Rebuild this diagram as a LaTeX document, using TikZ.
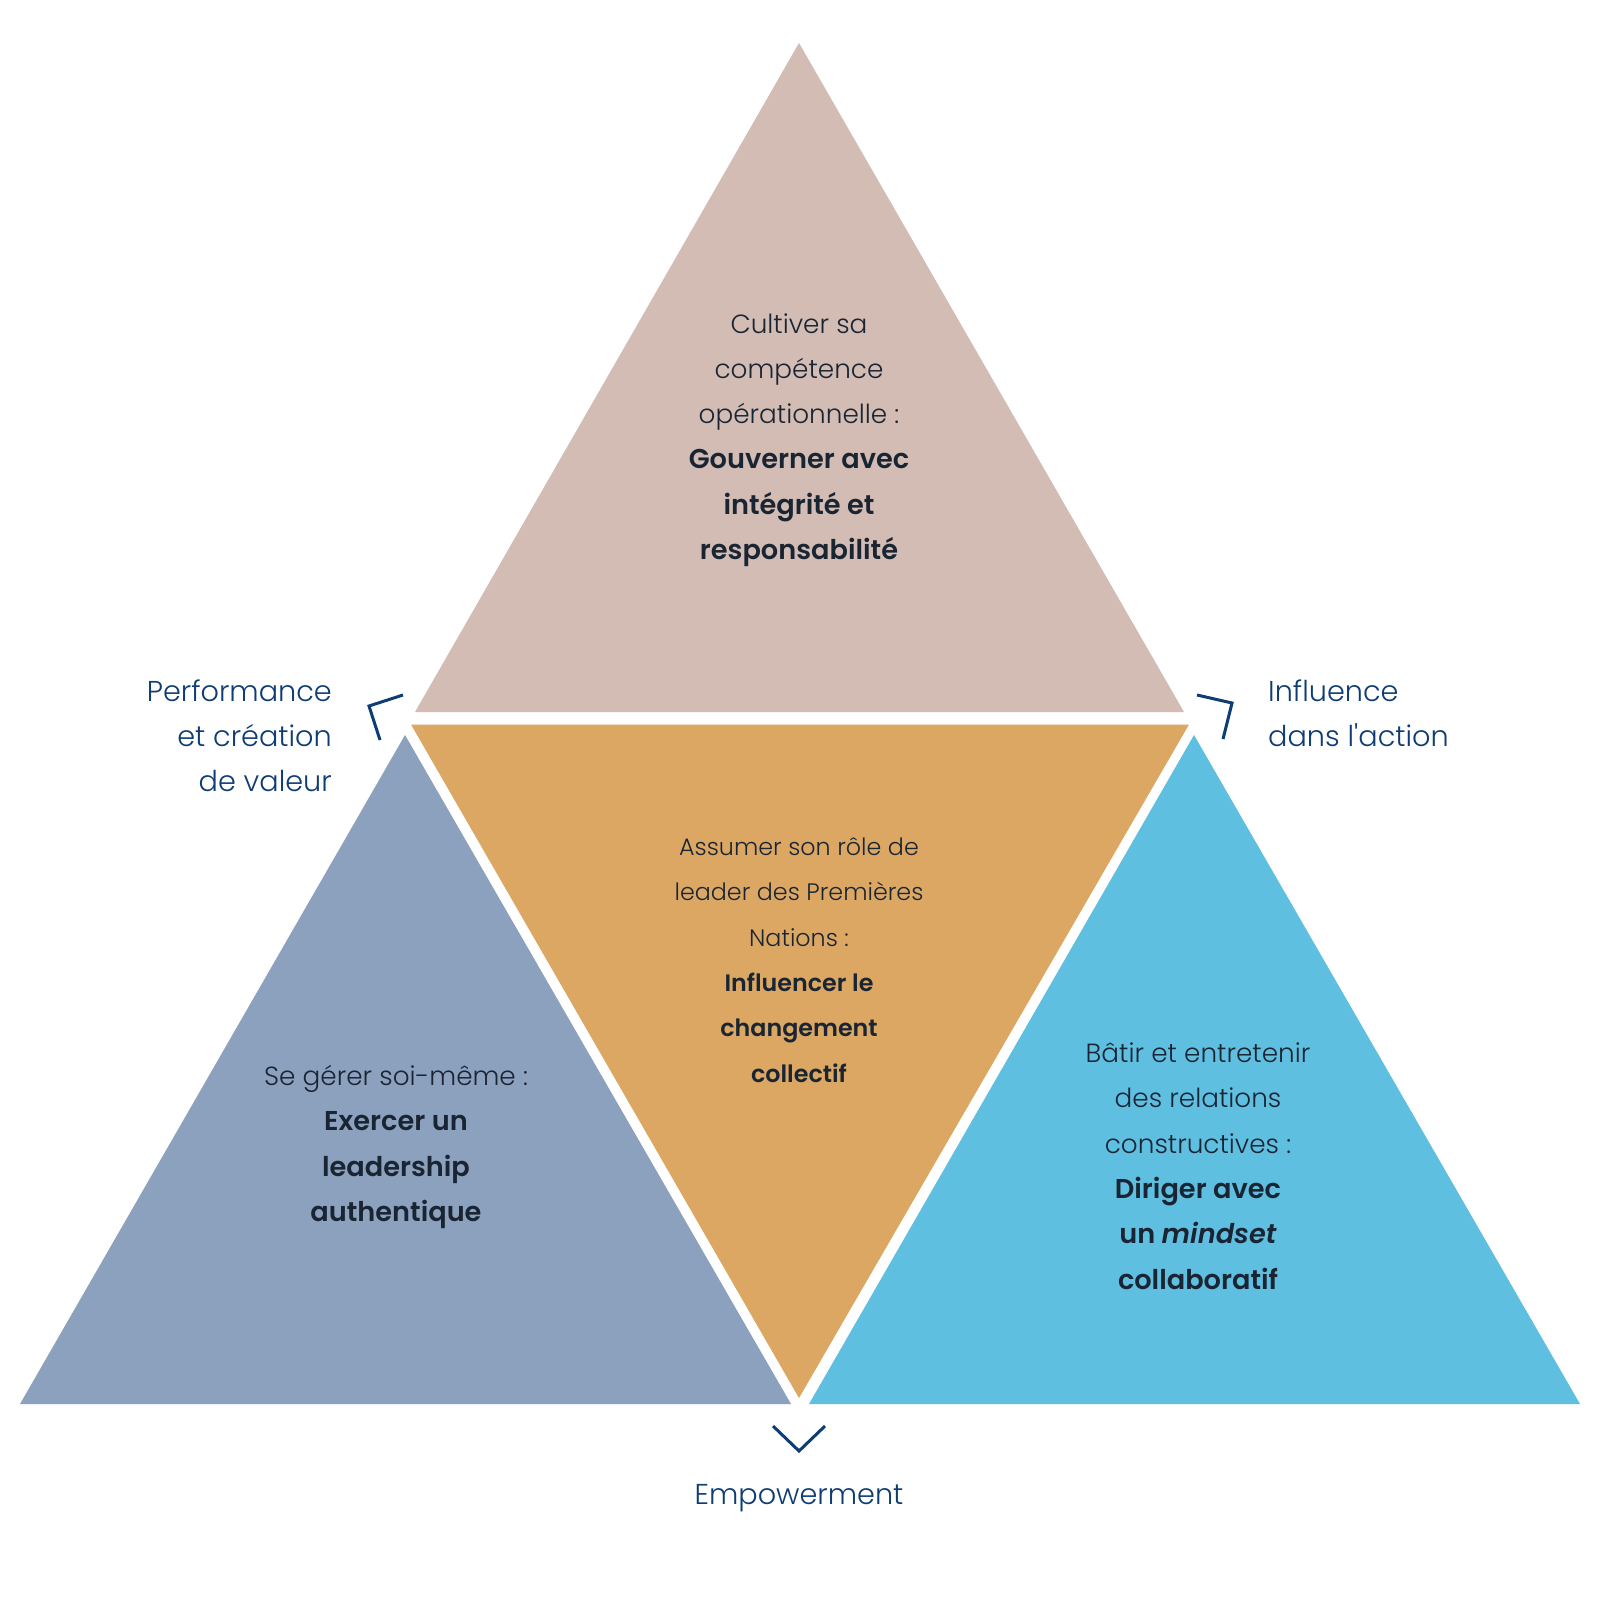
\documentclass[tikz,border=0pt]{standalone}
\usepackage{fontspec}
\setmainfont{Poppins}[UprightFont=*-Light, BoldFont=*-SemiBold, BoldItalicFont=*-SemiBoldItalic]
\definecolor{topc}{HTML}{D3BCB4}
\definecolor{midc}{HTML}{DBA763}
\definecolor{leftc}{HTML}{8CA1BE}
\definecolor{rightc}{HTML}{5FBFE0}
\definecolor{ink}{HTML}{1A2534}
\definecolor{navy}{HTML}{0E3C74}
\newcommand{\Bl}[1]{{\fontsize{27.2}{45.3}\selectfont\bfseries #1}}
\tikzset{
  body/.style={align=center, text=ink, font=\fontsize{26.3}{45.3}\selectfont, inner sep=0pt},
  midbody/.style={body, font=\fontsize{23.8}{45.3}\selectfont},
  label/.style={text=navy, font=\fontsize{28.7}{45}\selectfont\addfontfeature{Ligatures=TeXOff}, inner sep=0pt},
  chevron/.style={draw=navy, line width=3pt, line join=miter}
}
\begin{document}
\begin{tikzpicture}[x=1pt,y=-1pt]
\useasboundingbox (0,0) rectangle (1600,1600);
\fill[white] (0,0) rectangle (1600,1600);
% triangles
\fill[topc] (799,43) -- (1184,712) -- (415,712) -- cycle;
\fill[midc] (411,724.5) -- (1189,724.5) -- (799,1398) -- cycle;
\fill[leftc] (405,735) -- (791,1404) -- (20,1404) -- cycle;
\fill[rightc] (1194,735) -- (1580,1404) -- (809,1404) -- cycle;
% chevrons
\coordinate (la) at (403,695); \coordinate (lb) at (369,706); \coordinate (lc) at (380,740);
\draw[chevron] (la) -- (lb) -- (lc);
\coordinate (ra) at (1197,695); \coordinate (rb) at (1232,703); \coordinate (rc) at (1223,739);
\draw[chevron] (ra) -- (rb) -- (rc);
\coordinate (ba) at (773,1426); \coordinate (bb) at (799,1451); \coordinate (bc) at (825,1426);
\draw[chevron] (ba) -- (bb) -- (bc);
% texts
\node[body] (ttop) at (799,440) {Cultiver sa\\compétence\\opérationnelle :\\\Bl{Gouverner avec}\\\Bl{intégrité et}\\\Bl{responsabilité}};
\node[midbody] (tmid) at (799,960) {Assumer son rôle de\\leader des Premières\\Nations :\\\textbf{Influencer le}\\\textbf{changement}\\\textbf{collectif}};
\node[body] (tleft) at (396,1147) {Se gérer soi-même :\\\Bl{Exercer un}\\\Bl{leadership}\\\Bl{authentique}};
\node[body] (tright) at (1198,1166) {Bâtir et entretenir\\des relations\\constructives :\\\Bl{Diriger avec}\\\Bl{un \textit{mindset}}\\\Bl{collaboratif}};
\node[label, align=right, anchor=east] (lperf) at (332,736) {Performance\\et création\\de valeur};
\node[label, align=left, anchor=west] (linf) at (1268,713.5) {Influence\\dans l'action};
\node[label] (lemp) at (799,1498) {Empowerment};
\end{tikzpicture}
\end{document}
